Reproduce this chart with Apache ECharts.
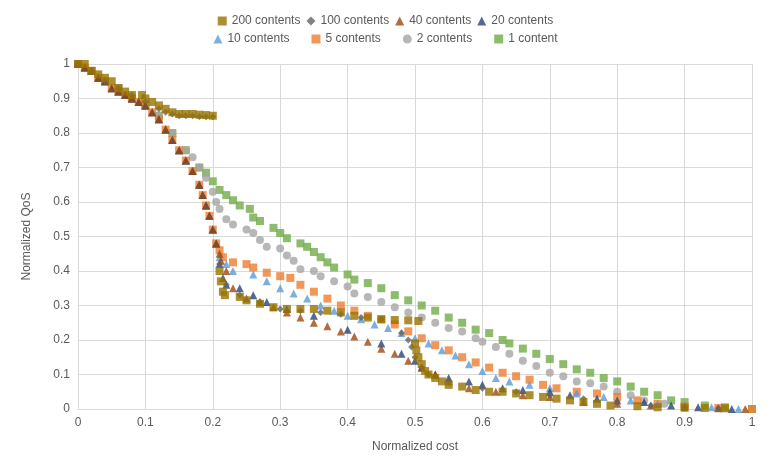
<!DOCTYPE html>
<html><head><meta charset="utf-8">
<script src="https://cdn.jsdelivr.net/npm/echarts@6/dist/echarts.min.js"></script>
</head><body style="margin:0">
<div id="chart" style="width:771px;height:476px"></div>
<script>
// shared head of the curves
var top200 = [[0,1],[0.01,1],[0.02,0.98],[0.03,0.97],[0.04,0.96],[0.05,0.95],[0.06,0.93],[0.07,0.92],[0.08,0.91],[0.095,0.91],[0.1,0.9],[0.11,0.89],[0.12,0.88],[0.13,0.87],[0.14,0.86],[0.15,0.855],[0.16,0.855],[0.17,0.855],[0.18,0.853],[0.19,0.852],[0.2,0.85]];
var top100 = [[0,1],[0.02,0.98],[0.04,0.95],[0.06,0.93],[0.08,0.91],[0.1,0.89],[0.12,0.87],[0.13,0.86],[0.14,0.855],[0.15,0.85],[0.16,0.85],[0.17,0.85],[0.18,0.848],[0.19,0.847],[0.2,0.847]];
var steep = [[0,1],[0.01,0.99],[0.02,0.98],[0.03,0.96],[0.04,0.95],[0.05,0.93],[0.06,0.92],[0.07,0.91],[0.08,0.9],[0.09,0.89],[0.1,0.88],[0.11,0.86],[0.12,0.84],[0.13,0.81],[0.14,0.78],[0.15,0.75],[0.16,0.72],[0.17,0.69],[0.18,0.65],[0.185,0.62],[0.19,0.59],[0.195,0.56],[0.2,0.52],[0.205,0.48]];

var s200 = top200.concat([[0.21,0.4],[0.212,0.37],[0.215,0.34],[0.218,0.33],[0.24,0.325],[0.25,0.315],[0.27,0.305],[0.29,0.295],[0.31,0.29],[0.33,0.29],[0.35,0.29],[0.37,0.285],[0.39,0.28],[0.41,0.27],[0.43,0.265],[0.45,0.26],[0.47,0.258],[0.49,0.257],[0.505,0.255],[0.5,0.19],[0.502,0.17],[0.505,0.15],[0.51,0.13],[0.515,0.11],[0.52,0.1],[0.53,0.09],[0.54,0.08],[0.55,0.07],[0.57,0.065],[0.59,0.055],[0.61,0.05],[0.63,0.05],[0.65,0.045],[0.67,0.04],[0.69,0.035],[0.71,0.03],[0.73,0.025],[0.75,0.02],[0.77,0.015],[0.79,0.01],[0.83,0.008],[0.86,0.005],[0.9,0.004],[0.93,0.003],[0.96,0.002]]);
var s100 = top100.concat([[0.21,0.42],[0.22,0.36],[0.24,0.33],[0.27,0.31],[0.3,0.29],[0.33,0.285],[0.36,0.28],[0.39,0.275],[0.42,0.265],[0.45,0.26],[0.48,0.22],[0.49,0.2],[0.495,0.18],[0.5,0.15],[0.51,0.12],[0.52,0.1],[0.55,0.08],[0.6,0.06],[0.65,0.05],[0.7,0.04],[0.75,0.03],[0.8,0.02],[0.85,0.01],[0.9,0.005],[0.95,0.002]]);
var s40 = steep.concat([[0.21,0.45],[0.212,0.43],[0.22,0.4],[0.23,0.35],[0.25,0.32],[0.27,0.31],[0.29,0.295],[0.31,0.28],[0.33,0.265],[0.35,0.25],[0.37,0.24],[0.39,0.225],[0.41,0.21],[0.43,0.195],[0.45,0.175],[0.47,0.16],[0.49,0.14],[0.51,0.12],[0.53,0.1],[0.55,0.08],[0.58,0.06],[0.62,0.05],[0.66,0.04],[0.7,0.035],[0.75,0.02],[0.8,0.015],[0.85,0.01],[0.9,0.005],[0.95,0.002],[0.99,0]]);
var s20 = steep.concat([[0.21,0.42],[0.215,0.38],[0.22,0.36],[0.24,0.35],[0.26,0.33],[0.28,0.31],[0.31,0.29],[0.35,0.27],[0.4,0.23],[0.45,0.19],[0.48,0.16],[0.5,0.14],[0.51,0.12],[0.53,0.1],[0.55,0.09],[0.58,0.08],[0.6,0.07],[0.63,0.06],[0.66,0.055],[0.7,0.05],[0.73,0.04],[0.77,0.03],[0.8,0.025],[0.84,0.02],[0.88,0.01],[0.92,0.005],[0.97,0]]);
var s10 = steep.concat([[0.21,0.44],[0.22,0.42],[0.23,0.4],[0.26,0.39],[0.28,0.37],[0.3,0.35],[0.32,0.335],[0.34,0.32],[0.36,0.3],[0.38,0.285],[0.4,0.27],[0.42,0.26],[0.44,0.245],[0.46,0.235],[0.48,0.22],[0.5,0.205],[0.52,0.19],[0.54,0.17],[0.56,0.155],[0.58,0.13],[0.6,0.11],[0.62,0.09],[0.64,0.08],[0.67,0.07],[0.7,0.06],[0.74,0.045],[0.78,0.035],[0.82,0.025],[0.86,0.015],[0.9,0.01],[0.94,0.005],[0.98,0]]);
var s5 = steep.concat([[0.21,0.46],[0.215,0.44],[0.23,0.425],[0.25,0.42],[0.26,0.41],[0.28,0.395],[0.3,0.385],[0.315,0.38],[0.33,0.36],[0.35,0.34],[0.37,0.32],[0.39,0.3],[0.41,0.285],[0.43,0.27],[0.45,0.26],[0.47,0.245],[0.49,0.225],[0.51,0.205],[0.53,0.185],[0.55,0.17],[0.57,0.15],[0.59,0.135],[0.61,0.12],[0.63,0.105],[0.65,0.095],[0.67,0.085],[0.69,0.07],[0.71,0.06],[0.74,0.05],[0.77,0.045],[0.8,0.035],[0.83,0.025],[0.86,0.015],[0.9,0.008],[0.95,0.003],[1,0]]);
var s2 = [[0,1],[0.02,0.98],[0.04,0.95],[0.06,0.93],[0.08,0.9],[0.1,0.88],[0.12,0.85],[0.14,0.8],[0.16,0.75],[0.17,0.73],[0.18,0.7],[0.19,0.67],[0.2,0.63],[0.205,0.6],[0.21,0.58],[0.22,0.55],[0.23,0.535],[0.25,0.52],[0.26,0.51],[0.27,0.49],[0.28,0.47],[0.3,0.465],[0.31,0.445],[0.32,0.43],[0.33,0.405],[0.35,0.4],[0.36,0.385],[0.38,0.37],[0.4,0.355],[0.41,0.335],[0.43,0.325],[0.45,0.31],[0.47,0.295],[0.49,0.28],[0.51,0.265],[0.53,0.25],[0.55,0.235],[0.57,0.225],[0.59,0.205],[0.6,0.195],[0.62,0.18],[0.64,0.16],[0.66,0.14],[0.68,0.125],[0.7,0.105],[0.72,0.095],[0.74,0.08],[0.76,0.075],[0.78,0.065],[0.8,0.05],[0.82,0.04],[0.84,0.025],[0.87,0.015],[0.9,0.005]];
var s1 = [[0,1],[0.02,0.98],[0.04,0.95],[0.06,0.93],[0.08,0.9],[0.1,0.88],[0.12,0.85],[0.14,0.8],[0.16,0.75],[0.18,0.7],[0.19,0.685],[0.2,0.66],[0.21,0.635],[0.22,0.62],[0.23,0.605],[0.24,0.59],[0.255,0.58],[0.26,0.555],[0.27,0.545],[0.29,0.525],[0.3,0.51],[0.31,0.495],[0.33,0.48],[0.34,0.47],[0.35,0.455],[0.36,0.44],[0.37,0.425],[0.38,0.41],[0.4,0.39],[0.41,0.375],[0.43,0.365],[0.45,0.35],[0.47,0.33],[0.49,0.315],[0.51,0.3],[0.53,0.285],[0.55,0.265],[0.57,0.25],[0.59,0.23],[0.61,0.22],[0.63,0.2],[0.64,0.19],[0.66,0.175],[0.68,0.16],[0.7,0.145],[0.72,0.13],[0.74,0.115],[0.76,0.105],[0.78,0.09],[0.8,0.08],[0.82,0.065],[0.84,0.05],[0.86,0.04],[0.88,0.025],[0.9,0.02],[0.93,0.01],[0.96,0.005],[1,0]];

var names = ['200 contents','100 contents','40 contents','20 contents','10 contents','5 contents','2 contents','1 content'];
var colors = ['#997300','#636363','#9e480e','#264478','#5b9bd5','#ed7d31','#a5a5a5','#70ad47'];
var symbols = ['rect','diamond','triangle','triangle','triangle','rect','circle','rect'];
var datas = [s200,s100,s40,s20,s10,s5,s2,s1];

var series = [];
for (var i = datas.length - 1; i >= 0; i--) {
  series.push({
    name: names[i], type: 'scatter', data: datas[i],
    symbol: symbols[i], symbolSize: symbols[i] == 'diamond' ? 7 : 8,
    itemStyle: {color: colors[i]}, z: 10 - i
  });
}
var txt = {color: '#595959', fontSize: 12, fontFamily: 'Liberation Sans'};
var myChart = echarts.init(document.getElementById('chart'));
myChart.setOption({
  animation: false,
  legend: [
    {data: names.slice(0,4), top: 10, left: 'center', itemWidth: 9, itemHeight: 9, itemGap: 6, textStyle: txt},
    {data: names.slice(4), top: 28, left: 'center', itemWidth: 9, itemHeight: 9, itemGap: 22, textStyle: txt}
  ],
  grid: {left: 78, right: 19, top: 64, bottom: 67},
  xAxis: {type: 'value', min: 0, max: 1, interval: 0.1, name: 'Normalized cost', nameLocation: 'middle', nameGap: 32,
    nameTextStyle: txt, axisLabel: txt, axisTick: {show: false},
    axisLine: {lineStyle: {color: '#d9d9d9'}}, splitLine: {lineStyle: {color: '#d9d9d9'}}},
  yAxis: {type: 'value', min: 0, max: 1, interval: 0.1, name: 'Normalized QoS', nameLocation: 'middle', nameGap: 45,
    nameTextStyle: txt, axisLabel: txt, axisTick: {show: false},
    axisLine: {show: false}, splitLine: {lineStyle: {color: '#d9d9d9'}}},
  series: series
});
</script>
</body></html>
